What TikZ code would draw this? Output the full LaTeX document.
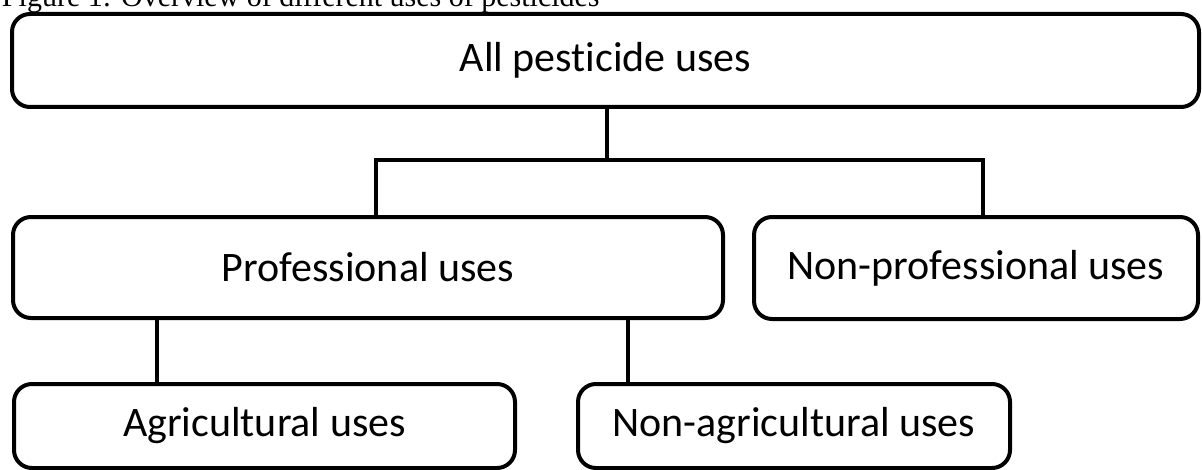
\documentclass[tikz,border=0pt]{standalone}
\usepackage{fontspec}
\setmainfont{Liberation Serif}
\newfontfamily\boxfont[Ligatures=NoCommon]{Carlito}
\usetikzlibrary{positioning}

\begin{document}
\begin{tikzpicture}[x=0.5pt, y=-0.5pt, line width=2pt,
    usebox/.style={draw, rounded corners=9pt, font=\boxfont\fontsize{21}{25}\selectfont,
        inner sep=0pt, anchor=center}
]
    \useasboundingbox (0,0) rectangle (1202,470);
    \node[anchor=base west, inner sep=0pt, font=\fontsize{15}{18}\selectfont] (caption) at (0,7) {Figure 1: Overview of different uses of pesticides};
    \node[usebox, minimum width=593.5pt, minimum height=46.5pt] (all) at (605.5,60.5) {All pesticide uses};
    \node[usebox, minimum width=355pt, minimum height=50.5pt] (prof) at (368,267.5) {Professional uses};
    \node[usebox, minimum width=222pt, minimum height=51pt] (nonprof) at (976,268) {Non-professional uses};
    \node[usebox, minimum width=250.5pt, minimum height=42pt] (agri) at (264.5,426) {Agricultural uses};
    \node[usebox, minimum width=216pt, minimum height=42pt] (nonagri) at (794,426) {Non-agricultural uses};
    \coordinate (split) at (607,160);
    \coordinate (left) at (376,160);
    \coordinate (right) at (983,160);
    \coordinate (agsplit) at (157,0);
    \coordinate (nagsplit) at (628,0);
    \draw (all.south -| split) -- (split);
    \draw (prof.north -| left) -- (left) -- (right) -- (nonprof.north -| right);
    \draw (prof.south -| agsplit) -- (agri.north -| agsplit);
    \draw (prof.south -| nagsplit) -- (nonagri.north -| nagsplit);
\end{tikzpicture}
\end{document}
